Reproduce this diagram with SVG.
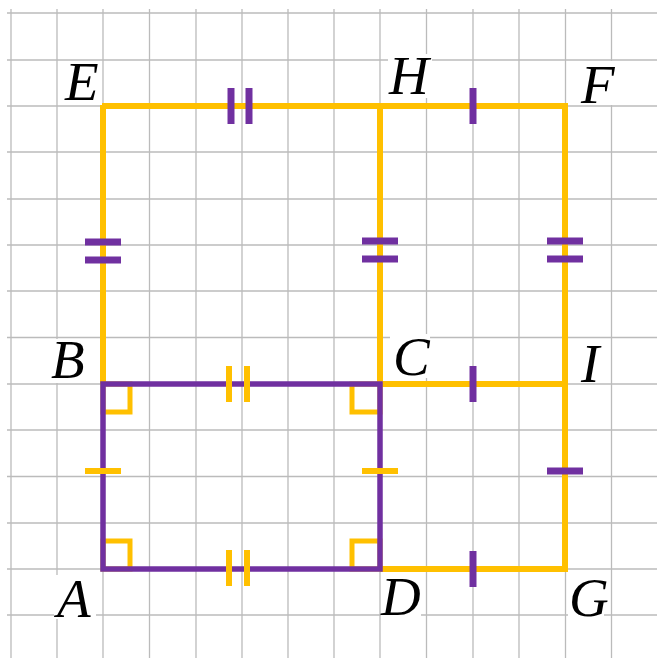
<svg xmlns="http://www.w3.org/2000/svg" width="657" height="658" viewBox="0 0 657 658">
<style>
.grid line{stroke:#BBBBBB;stroke-width:1.3}
.y{stroke:#FFC000;fill:none;stroke-width:6}
.p{stroke:#7030A0;fill:none;stroke-width:5.5}
.ra{stroke:#FFC000;fill:none;stroke-width:5}
.tp{stroke:#7030A0;stroke-width:7}
.ty{stroke:#FFC000;stroke-width:6}
.lbl{font-family:"Liberation Serif","DejaVu Serif",serif;font-style:italic;font-size:55px;fill:#000}
.bg{fill:#fff}
</style>
<rect width="657" height="658" fill="#fff"/>
<g class="grid">
<line x1="11" y1="9" x2="11" y2="658"/>
<line x1="57" y1="9" x2="57" y2="658"/>
<line x1="103" y1="9" x2="103" y2="658"/>
<line x1="149.5" y1="9" x2="149.5" y2="658"/>
<line x1="196" y1="9" x2="196" y2="658"/>
<line x1="242" y1="9" x2="242" y2="658"/>
<line x1="288" y1="9" x2="288" y2="658"/>
<line x1="334" y1="9" x2="334" y2="658"/>
<line x1="380" y1="9" x2="380" y2="658"/>
<line x1="426.5" y1="9" x2="426.5" y2="658"/>
<line x1="473" y1="9" x2="473" y2="658"/>
<line x1="519" y1="9" x2="519" y2="658"/>
<line x1="565.5" y1="9" x2="565.5" y2="658"/>
<line x1="611.5" y1="9" x2="611.5" y2="658"/>
<line x1="7" y1="13" x2="657" y2="13"/>
<line x1="7" y1="60" x2="657" y2="60"/>
<line x1="7" y1="106" x2="657" y2="106"/>
<line x1="7" y1="152" x2="657" y2="152"/>
<line x1="7" y1="199" x2="657" y2="199"/>
<line x1="7" y1="245" x2="657" y2="245"/>
<line x1="7" y1="291" x2="657" y2="291"/>
<line x1="7" y1="337.5" x2="657" y2="337.5"/>
<line x1="7" y1="384" x2="657" y2="384"/>
<line x1="7" y1="430" x2="657" y2="430"/>
<line x1="7" y1="476.5" x2="657" y2="476.5"/>
<line x1="7" y1="523" x2="657" y2="523"/>
<line x1="7" y1="569" x2="657" y2="569"/>
<line x1="7" y1="615" x2="657" y2="615"/>
</g>
<g id="connectors">
<path class="y" d="M103,384 V106 H565 V569 H380"/>
<path class="y" d="M380,106 V384 H565"/>
<rect class="ra" x="103" y="384" width="27" height="28"/>
<rect class="ra" x="352" y="384" width="28" height="28"/>
<rect class="ra" x="103" y="541" width="27" height="28"/>
<rect class="ra" x="352" y="541" width="28" height="28"/>
<rect class="p" x="103" y="384" width="277" height="185"/>
<g class="tp">
<line x1="231" y1="88" x2="231" y2="124"/>
<line x1="249" y1="88" x2="249" y2="124"/>
<line x1="473" y1="88" x2="473" y2="124"/>
<line x1="85" y1="242" x2="121" y2="242"/>
<line x1="85" y1="260" x2="121" y2="260"/>
<line x1="362" y1="241" x2="398" y2="241"/>
<line x1="362" y1="259" x2="398" y2="259"/>
<line x1="547" y1="241" x2="583" y2="241"/>
<line x1="547" y1="259" x2="583" y2="259"/>
<line x1="473" y1="366" x2="473" y2="402"/>
<line x1="473" y1="551" x2="473" y2="587"/>
<line x1="547" y1="471" x2="583" y2="471"/>
</g>
<g class="ty">
<line x1="229" y1="366" x2="229" y2="402"/>
<line x1="247" y1="366" x2="247" y2="402"/>
<line x1="229" y1="550" x2="229" y2="586"/>
<line x1="247" y1="550" x2="247" y2="586"/>
<line x1="85" y1="471" x2="121" y2="471"/>
<line x1="362" y1="471" x2="398" y2="471"/>
</g>
</g>
<g id="E"><rect class="bg" x="62" y="61" width="40" height="44"/><text class="lbl" x="65" y="100">E</text></g>
<g id="H"><rect class="bg" x="388" y="54" width="44" height="44"/><text class="lbl" x="389" y="94">H</text></g>
<g id="F"><rect class="bg" x="578" y="61" width="40" height="44"/><text class="lbl" x="581" y="103">F</text></g>
<g id="B"><rect class="bg" x="50" y="339" width="40" height="44"/><text class="lbl" x="51" y="378">B</text></g>
<g id="C"><rect class="bg" x="390" y="334" width="40" height="44"/><text class="lbl" x="393" y="375">C</text></g>
<g id="I"><rect class="bg" x="578" y="340" width="30" height="43"/><text class="lbl" x="581" y="382">I</text></g>
<g id="A"><rect class="bg" x="54" y="575" width="42" height="44"/><text class="lbl" x="57" y="617">A</text></g>
<g id="D"><rect class="bg" x="381" y="576" width="40" height="42"/><text class="lbl" x="381" y="615">D</text></g>
<g id="G"><rect class="bg" x="568" y="576" width="36" height="42"/><text class="lbl" x="569" y="616">G</text></g>
</svg>
